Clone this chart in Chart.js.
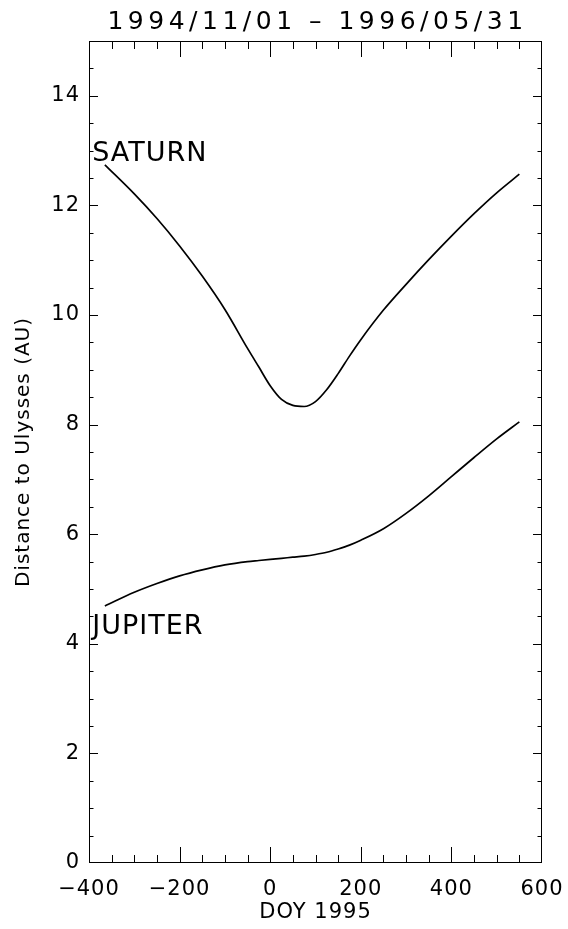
<!DOCTYPE html>
<html>
<head>
<meta charset="utf-8">
<script src="https://cdn.jsdelivr.net/npm/chart.js"></script>
<style>
  html, body { margin: 0; padding: 0; background: #fff; }
  canvas { display: block; }
</style>
</head>
<body>
<canvas id="chart" width="568" height="929"></canvas>
<script>
// day of year 1995 (negative = 1994)
const doy = [-365, -300, -250, -200, -150, -100, -50, -25, 0, 25, 50, 75, 100, 125, 150, 175, 200, 250, 300, 350, 400, 450, 500, 550];
// distance to Ulysses (AU)
const saturn = [12.74, 12.21, 11.76, 11.26, 10.71, 10.10, 9.39, 9.05, 8.71, 8.46, 8.35, 8.33, 8.42, 8.64, 8.93, 9.25, 9.55, 10.09, 10.56, 11.01, 11.44, 11.85, 12.23, 12.57];
const jupiter = [4.69, 4.94, 5.10, 5.24, 5.35, 5.44, 5.50, 5.52, 5.54, 5.56, 5.58, 5.60, 5.63, 5.67, 5.73, 5.80, 5.89, 6.10, 6.38, 6.70, 7.05, 7.40, 7.74, 8.05];
const xTicks = [-400, -200, 0, 200, 400, 600];
const yTicks = [0, 2, 4, 6, 8, 10, 12, 14];
const titleText = '1994/11/01 \u2013 1996/05/31';
// planet names, anchored in data units (DOY, AU)
const planetLabels = [
    { text: 'SATURN', x: -393, y: 12.99 },
    { text: 'JUPITER', x: -393, y: 4.36 }
];

Chart.defaults.font.family = "'DejaVu Sans', sans-serif";
Chart.defaults.color = '#000';

// wider letters, like the IDL vector font
const spacing = {
    id: 'spacing',
    beforeUpdate(chart) { chart.ctx.letterSpacing = '1px'; },
    beforeDraw(chart) { chart.ctx.letterSpacing = '1px'; }
};

// box round the plot with inward ticks on all four sides
const frame = {
    id: 'frame',
    afterDraw(chart) {
        const { ctx, chartArea: a, scales: { x, y } } = chart;
        ctx.save();
        ctx.strokeStyle = '#000';
        ctx.lineWidth = 1;
        ctx.strokeRect(Math.round(a.left) + 0.5, Math.round(a.top) + 0.5,
                       Math.round(a.width) - 1, Math.round(a.height) - 1);
        ctx.beginPath();
        for (let v = x.min + 50; v < x.max; v += 50) {
            const px = Math.round(x.getPixelForValue(v)) + 0.5;
            const len = v % 200 === 0 ? 16 : 8;
            ctx.moveTo(px, a.bottom); ctx.lineTo(px, a.bottom - len);
            ctx.moveTo(px, a.top); ctx.lineTo(px, a.top + len);
        }
        for (let v = y.min + 0.5; v < y.max; v += 0.5) {
            const py = Math.round(y.getPixelForValue(v)) + 0.5;
            const len = v % 2 === 0 ? 9 : 4.5;
            ctx.moveTo(a.left, py); ctx.lineTo(a.left + len, py);
            ctx.moveTo(a.right, py); ctx.lineTo(a.right - len, py);
        }
        ctx.stroke();
        ctx.restore();
    }
};

// title and planet names
const texts = {
    id: 'texts',
    afterDraw(chart) {
        const { ctx, chartArea: a, scales: { x, y } } = chart;
        ctx.save();
        ctx.fillStyle = '#000';
        ctx.letterSpacing = '4.5px';
        ctx.font = "25px 'DejaVu Sans'";
        ctx.textAlign = 'center';
        ctx.textBaseline = 'alphabetic';
        ctx.fillText(titleText, (a.left + a.right) / 2 + 2, 29);
        ctx.letterSpacing = '1px';
        ctx.font = "27px 'DejaVu Sans'";
        ctx.textAlign = 'left';
        planetLabels.forEach(l => {
            ctx.fillText(l.text, x.getPixelForValue(l.x), y.getPixelForValue(l.y) + 10);
        });
        ctx.restore();
    }
};

new Chart(document.getElementById('chart'), {
    type: 'line',
    data: {
        datasets: [{
            label: 'Saturn',
            data: doy.map((d, i) => ({ x: d, y: saturn[i] })),
            borderColor: '#000',
            borderWidth: 1.7,
            pointRadius: 0,
            cubicInterpolationMode: 'monotone'
        }, {
            label: 'Jupiter',
            data: doy.map((d, i) => ({ x: d, y: jupiter[i] })),
            borderColor: '#000',
            borderWidth: 1.7,
            pointRadius: 0,
            cubicInterpolationMode: 'monotone'
        }]
    },
    options: {
        responsive: false,
        animation: false,
        layout: { padding: { top: 41, right: 26, bottom: 0, left: 0 } },
        plugins: { legend: { display: false }, tooltip: { enabled: false } },
        scales: {
            x: {
                type: 'linear',
                min: -400,
                max: 600,
                grid: { display: false, drawTicks: false },
                border: { display: false },
                afterBuildTicks: s => { s.ticks = xTicks.map(v => ({ value: v })); },
                ticks: {
                    padding: 14,
                    maxRotation: 0,
                    autoSkip: false,
                    font: { size: 21 },
                    callback: v => String(v).replace('-', '\u2212')
                },
                title: { display: true, text: 'DOY 1995', font: { size: 21 }, padding: { top: 0, bottom: 4 } },
                afterFit: s => { s.height = 66; s.paddingLeft = 0; s.paddingRight = 0; }
            },
            y: {
                min: 0,
                max: 15,
                grid: { display: false, drawTicks: false },
                border: { display: false },
                afterBuildTicks: s => { s.ticks = yTicks.map(v => ({ value: v })); },
                ticks: { padding: 9, font: { size: 21 } },
                title: { display: true, text: 'Distance to Ulysses (AU)', font: { size: 20 }, padding: { top: 12, bottom: 0 } },
                afterFit: s => { s.width = 89; s.paddingTop = 0; s.paddingBottom = 0; }
            }
        }
    },
    plugins: [spacing, frame, texts]
});
</script>
</body>
</html>
